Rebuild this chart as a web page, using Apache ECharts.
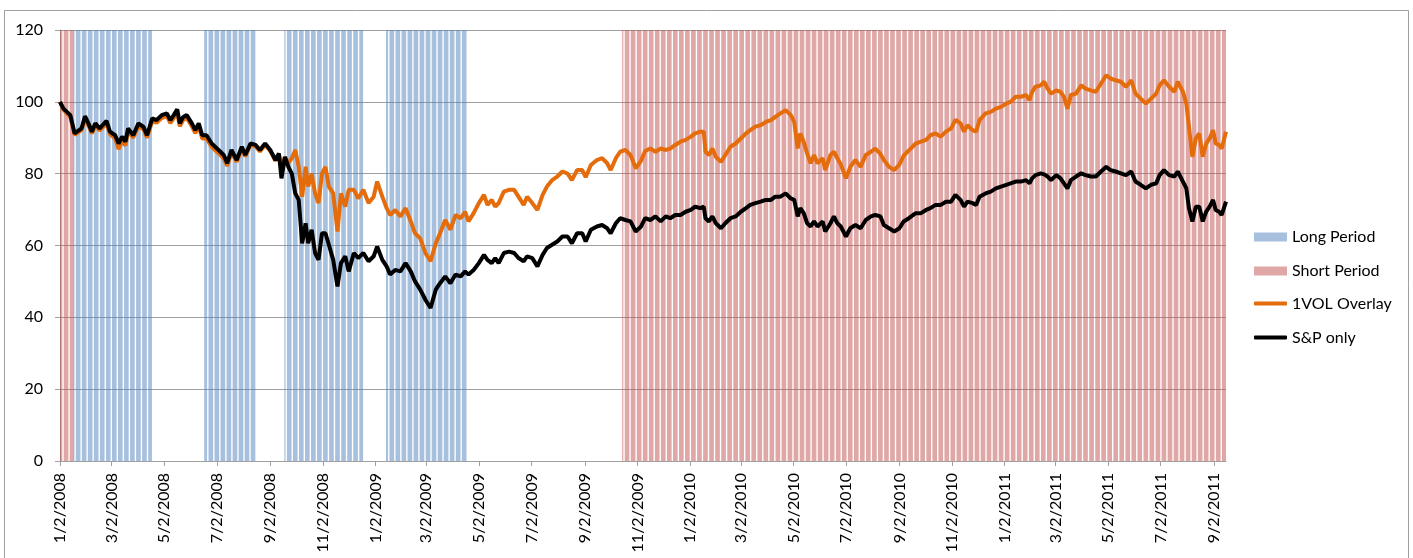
<!DOCTYPE html>
<html>
<head>
<meta charset="utf-8">
<script src="https://cdn.jsdelivr.net/npm/echarts@6/dist/echarts.min.js"></script>
<style>
html,body{margin:0;padding:0;background:#fff;}
#chart{width:1413px;height:558px;}
</style>
</head>
<body>
<div id="chart"></div>
<script>
// ---------------- DATA ----------------
const seriesStart = '2008-01-02';
const axisEnd = '2011-09-16';
const tickLabels = ['1/2/2008','3/2/2008','5/2/2008','7/2/2008','9/2/2008','11/2/2008',
  '1/2/2009','3/2/2009','5/2/2009','7/2/2009','9/2/2009','11/2/2009',
  '1/2/2010','3/2/2010','5/2/2010','7/2/2010','9/2/2010','11/2/2010',
  '1/2/2011','3/2/2011','5/2/2011','7/2/2011','9/2/2011'];
const periodLevel = 120;
const longPeriods = [['2008-01-18','2008-04-17'],['2008-06-18','2008-08-15'],['2008-09-19','2008-12-18'],['2009-01-15','2009-04-17']];
const shortPeriods = [['2008-01-02','2008-01-17'],['2009-10-16','2011-09-16']];

// observation dates as calendar days after seriesStart
const obsDay = [
0,4,8,12,17,25,29,33,37,41,
46,54,58,64,68,72,76,79,85,91,
97,101,107,112,118,124,128,132,136,139,
143,147,153,157,161,165,170,176,184,190,
194,199,205,211,215,221,227,232,238,244,
250,254,257,261,265,269,273,277,281,285,
288,292,296,300,304,308,312,317,322,326,
331,335,341,346,352,358,364,368,374,379,
383,389,395,401,407,412,418,424,430,436,
441,447,453,459,465,470,474,480,486,492,
496,501,505,509,515,521,527,532,538,542,
548,554,560,565,571,577,583,589,594,600,
606,610,616,623,629,635,639,645,650,656,
662,668,674,679,685,691,697,703,708,714,
720,726,732,737,743,747,749,753,757,761,
767,772,778,784,790,796,801,807,813,819,
825,830,836,842,848,852,856,859,863,867,
871,875,879,885,888,894,898,902,906,912,
917,923,929,935,941,946,952,956,962,968,
974,979,985,993,999,1005,1010,1016,1022,1028,
1034,1039,1045,1049,1053,1059,1063,1067,1074,1080,
1086,1092,1098,1103,1109,1115,1121,1125,1128,1132,
1138,1142,1146,1150,1156,1161,1165,1169,1173,1179,
1185,1190,1196,1202,1208,1214,1219,1225,1231,1237,
1243,1248,1254,1260,1266,1272,1276,1281,1287,1293,
1297,1303,1307,1310,1314,1318,1322,1326,1330,1334,
1338,1341,1345,1348,1353];

const spOnly = [
100,98.1,97.2,96.3,91.2,92.6,96,94,91.7,94,
92.6,94.7,91.7,90.7,88.4,90.3,88.9,92.6,90.7,94,
93,90.7,95.4,94.9,96.3,96.8,94.9,96.3,97.9,94,
95.8,96.3,94,92.1,94,90.7,90.7,88.4,86.6,85.2,
82.9,86.6,83.8,87.5,85.2,88.4,88,86.6,88.4,86.6,
83.8,85.6,78.7,84.7,81.9,80,74.5,72.7,60.6,66.2,
60.6,64.4,57.9,56,63.4,63.4,60.2,56,48.6,55.1,
57,52.8,57.9,56.5,57.9,55.6,57,59.7,56,54.2,
51.9,53.2,52.8,55.1,52.8,50,47.7,44.9,42.6,47.7,
49.5,51.4,49.5,51.9,51.4,52.8,51.9,53.2,55.1,57.4,
56,55.1,56.5,55.1,57.9,58.3,57.9,56.5,55.6,57,
56.5,54.2,57.4,59.3,60.2,61.1,62.5,62.5,60.6,63.4,
63.4,61.1,64.4,65.3,65.7,64.8,63.4,66.2,67.6,67.1,
66.7,63.9,65.2,67.6,67.1,68.1,66.7,68.1,67.6,68.5,
68.5,69.4,69.9,70.8,70.4,70.8,67.6,66.7,68.1,66.2,
64.8,66.2,67.6,68.1,69.4,70.4,71.3,71.8,72.2,72.7,
72.7,73.6,73.6,74.5,73.1,72.7,68.1,70.4,69,66.2,
65.3,66.7,65.3,66.7,63.9,66.2,68.1,66.2,65.3,62.5,
64.8,65.7,64.8,67.1,68.1,68.5,68.1,65.7,64.8,63.9,
64.8,66.7,67.6,69,69,69.9,70.4,71.3,71.3,72.2,
72.2,74.1,72.7,70.8,72.2,71.8,71.3,73.6,74.5,75,
75.9,76.4,76.9,77.3,77.8,77.8,78.2,77.3,78.7,79.6,
80.1,79.8,79.2,78.2,79.6,78.7,77.3,75.9,78.2,79.2,
80.1,79.6,79.2,79.2,80.6,81.9,81,80.6,80.1,79.6,
80.6,77.8,76.9,75.9,76.9,77.3,79.6,81,79.6,79.2,
80.6,77.8,75.9,70.4,66.7,70.8,70.8,66.7,69.4,70.8,
72.7,69.9,69.4,68.5,72.2];

const overlay = [
100,97.8,96.8,95.8,90.8,92.1,95.3,93.4,91.2,93.4,
92,94,91,89.8,86.8,89.2,87.8,91.8,90,93.3,
92.3,90,94.6,94.2,95.5,96,94.1,95.5,97,93.2,
95,95.5,93.2,91.3,93.2,89.8,89.8,87.4,85.7,84.2,
82.2,85.9,83.3,87,84.8,88,87.6,86.2,88,86.3,
83.6,85.3,82,84.5,83,84.3,86.6,81.9,73.6,81.9,
76.4,80,74.5,71.8,80,81.9,76.4,74.5,63.9,74.5,
70.8,75.5,75.5,73.1,75.5,71.8,73.6,77.8,73.6,70.4,
68.5,69.9,68.1,70.4,66.7,63.4,62,57.9,55.6,60.6,
63.4,67.1,64.4,68.5,67.6,69.4,66.7,69,71.8,74.1,
71.3,72.7,70.8,71.8,75,75.5,75.5,73.6,71.3,73.6,
71.8,69.9,74.1,76.4,78.2,79.2,80.6,80,78.2,81,
81,79,82.4,83.8,84.3,82.9,81,84.3,86.1,86.6,
85.2,81.5,83.5,86.3,87,86.1,87,86.6,87,88,
88.9,89.4,90.3,91.2,91.7,91.7,86.1,85.2,87,84.7,
83.3,85.2,87.5,88.4,89.8,91.2,92.1,93.1,93.5,94.4,
94.9,95.8,96.8,97.7,96.3,94.4,87,91.2,88.9,85.6,
82.9,85.2,82.9,84.3,81,85.2,86.1,84.3,82.6,78.7,
81.9,83.8,81.9,85.2,86.1,87,85.5,83.8,81.9,81,
82.5,85,86.5,88.4,88.9,89.4,90.7,91.2,90.3,91.7,
92.6,95,94,91.7,93.5,92.1,91.7,94.9,96.8,97.2,
98.1,98.6,99.5,100,101.4,101.4,101.9,100.5,102.8,104.2,
104.6,105.6,103.7,102.3,103.2,102.8,101.4,98.1,101.9,102.3,
104.6,103.7,103.2,102.8,105.1,107.4,106.5,106,105.6,104.2,
106,102.3,100.9,99.5,100.9,102.3,104.6,106,104.2,102.8,
105.6,102.8,99.5,93.1,84.7,89.8,91.2,84.7,88.4,89.8,
92.1,88.4,88,87,91.7];

// ---------------- BUILD ----------------
const DAY = 86400000;
function parseISO(s){ const p = s.split('-').map(Number); return new Date(p[0], p[1]-1, p[2]); }
function parseMDY(s){ const p = s.split('/').map(Number); return new Date(p[2], p[0]-1, p[1]).getTime(); }
const startDate = parseISO(seriesStart);
function obsTime(d){ const t = new Date(startDate.getTime()); t.setDate(t.getDate() + d); return t.getTime(); }

function weekdayRuns(ranges){
  const out = [];
  ranges.forEach(function(r){
    const d = parseISO(r[0]); const end = parseISO(r[1]).getTime();
    let runStart = null, last = null;
    while (d.getTime() <= end){
      const dow = d.getDay();
      if (dow >= 1 && dow <= 5){ if (runStart === null) runStart = d.getTime(); last = d.getTime(); }
      else if (runStart !== null){ out.push([runStart, last, periodLevel]); runStart = null; }
      d.setDate(d.getDate() + 1);
    }
    if (runStart !== null) out.push([runStart, last, periodLevel]);
  });
  return out;
}

function renderPeriod(params, api){
  const a = api.coord([api.value(0) - DAY*0.7, api.value(2)]);
  const b = api.coord([api.value(1) + DAY*0.7, 0]);
  return { type:'rect', shape:{ x:a[0], y:a[1], width:b[0]-a[0], height:b[1]-a[1] },
           style:{ fill: api.visual('color') } };
}

const tickValues = tickLabels.map(parseMDY);
const labelText = {};
tickLabels.forEach(function(s, i){ labelText[tickValues[i]] = s; });
const FONT = 'Lato, "Open Sans", sans-serif';
const GRID_COLOR = '#a0a0a0';
const legendText = { fontSize:16, color:'#000', fontFamily:FONT, lineHeight:15 };

const chart = echarts.init(document.getElementById('chart'));
chart.setOption({
  animation: false,
  backgroundColor: '#fff',
  textStyle: { fontFamily: FONT },
  graphic: [{ type:'rect', shape:{ x:4.5, y:10.5, width:1404, height:560 },
              style:{ fill:'none', stroke:'#a0a0a0', lineWidth:1 }, silent:true, z:-1 }],
  grid: { left:60, right:187, top:30, bottom:97 },
  legend: [
    { orient:'vertical', left:1254, top:229, padding:0, itemWidth:33, itemHeight:9, itemGap:18,
      textStyle: legendText, icon:'rect',
      data:['Long Period', 'Short Period'] },
    { orient:'vertical', left:1254, top:295.5, padding:0, itemWidth:33, itemHeight:4, itemGap:18,
      textStyle: legendText, icon:'roundRect',
      data:['1VOL Overlay', 'S&P only'] }
  ],
  xAxis: {
    type:'value',
    min: parseISO(seriesStart).getTime(),
    max: parseISO(axisEnd).getTime(),
    axisLine:{ show:true, onZero:false, lineStyle:{ color:GRID_COLOR } },
    axisTick:{ show:true, customValues: tickValues, length:5, lineStyle:{ color:GRID_COLOR } },
    splitLine:{ show:false },
    axisLabel:{
      customValues: tickValues, rotate:90, margin:12, fontSize:16, color:'#000', fontFamily:FONT,
      hideOverlap:false, showMinLabel:true, showMaxLabel:true,
      formatter: function(v){ if (labelText[v]) return labelText[v]; const d = new Date(v); return (d.getMonth()+1) + '/' + d.getDate() + '/' + d.getFullYear(); }
    }
  },
  yAxis: {
    type:'value', min:0, max:120, interval:20,
    axisLine:{ show:true, lineStyle:{ color:GRID_COLOR } },
    axisTick:{ show:true, length:5, lineStyle:{ color:GRID_COLOR } },
    splitLine:{ show:true, lineStyle:{ color:GRID_COLOR, width:1 } },
    axisLabel:{ fontSize:16, color:'#000', margin:17, fontFamily:FONT }
  },
  series: [
    { name:'Long Period', type:'custom', renderItem: renderPeriod, clip:true,
      itemStyle:{ color:'rgba(79,129,189,0.5)' }, encode:{ x:[0,1], y:2 },
      data: weekdayRuns(longPeriods), z:1 },
    { name:'Short Period', type:'custom', renderItem: renderPeriod, clip:true,
      itemStyle:{ color:'rgba(192,80,77,0.5)' }, encode:{ x:[0,1], y:2 },
      data: weekdayRuns(shortPeriods), z:1 },
    { name:'1VOL Overlay', type:'line', showSymbol:false, symbol:'none',
      lineStyle:{ color:'#e46c0a', width:4 }, itemStyle:{ color:'#e46c0a' },
      data: obsDay.map(function(d,i){ return [obsTime(d), overlay[i]]; }), z:3 },
    { name:'S&P only', type:'line', showSymbol:false, symbol:'none',
      lineStyle:{ color:'#000', width:4 }, itemStyle:{ color:'#000' },
      data: obsDay.map(function(d,i){ return [obsTime(d), spOnly[i]]; }), z:4 }
  ]
});
</script>
</body>
</html>
